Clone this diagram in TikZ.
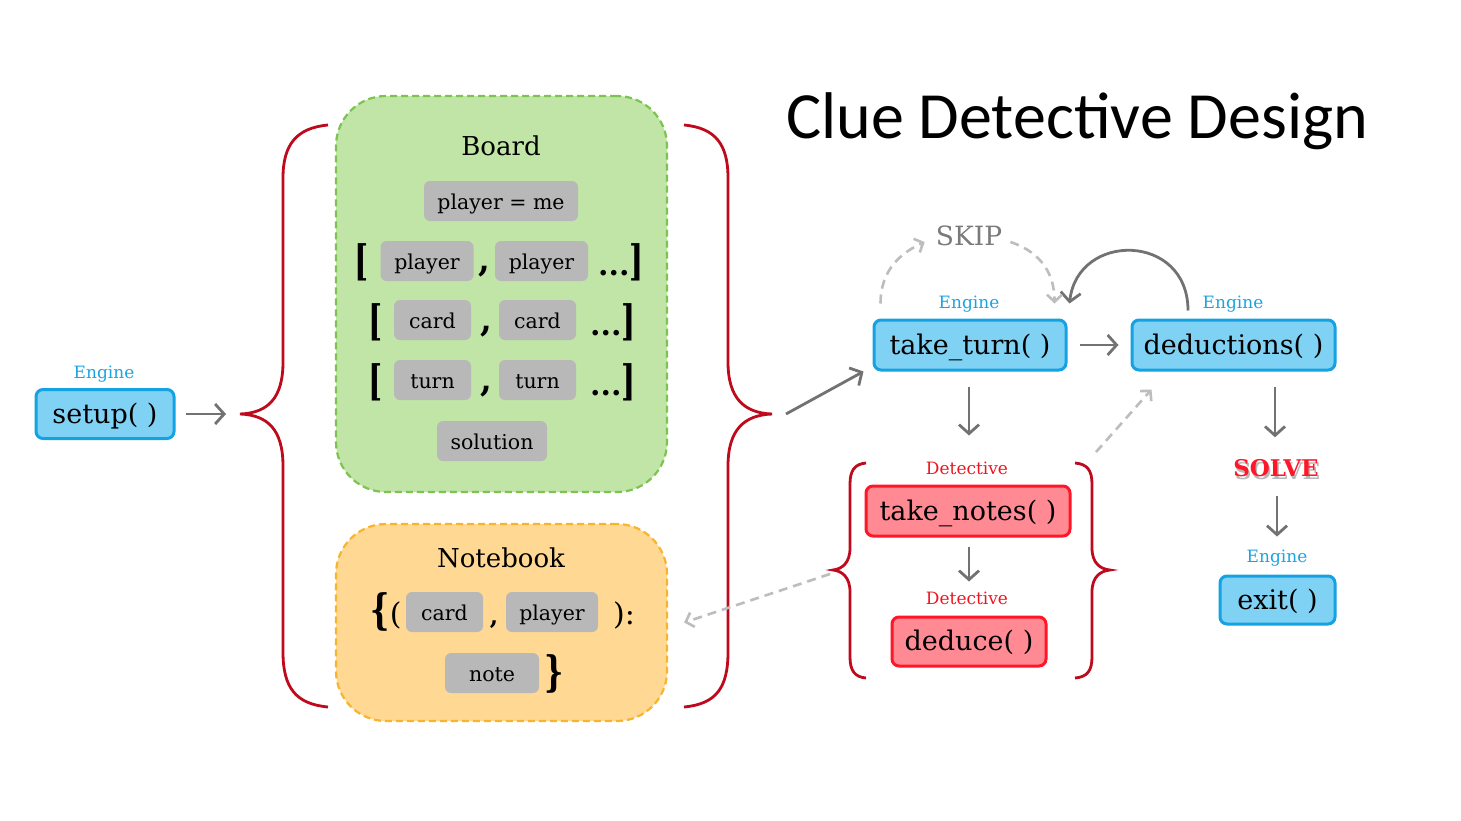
\documentclass[tikz,border=0pt]{standalone}
\usepackage{fontspec}
\usepackage{graphicx}
\setmainfont{DejaVu Serif}
\newfontfamily\titlefont{Carlito}
\usetikzlibrary{arrows.meta,calc}
\definecolor{engfill}{HTML}{80D2F4}
\definecolor{engline}{HTML}{14A2E2}
\definecolor{detfill}{HTML}{FF8A93}
\definecolor{detline}{HTML}{FF1628}
\definecolor{chipfill}{HTML}{B8B8B8}
\definecolor{bracered}{HTML}{BE0A1C}
\definecolor{boardfill}{HTML}{C1E5A7}
\definecolor{boardline}{HTML}{7CC350}
\definecolor{nbfill}{HTML}{FFD993}
\definecolor{nbline}{HTML}{F9B42D}
\definecolor{arrowgray}{HTML}{727272}
\definecolor{lightgraytwo}{HTML}{BDBDBD}
\definecolor{englabel}{HTML}{1BA4E2}
\definecolor{detlabel}{HTML}{EE1520}
\definecolor{skipgray}{HTML}{7A7A7A}
\newcommand{\tallb}[1]{\scalebox{1}[1.4]{#1}}
\tikzset{
  fs/.style={font=\fontsize{#1}{#1}\selectfont},
  fsb/.style={font=\fontsize{#1}{#1}\selectfont\bfseries},
  engbox/.style={inner sep=0pt, text height=20pt, text depth=2pt, draw=engline, fill=engfill, line width=3pt, rounded corners=7pt, fs=27},
  detbox/.style={inner sep=0pt, text height=20pt, text depth=2pt, draw=detline, fill=detfill, line width=3pt, rounded corners=7pt, fs=27},
  chip/.style={inner sep=0pt, text height=17pt, text depth=0pt, fill=chipfill, rounded corners=6pt, fs=20.5, minimum height=40},
  englab/.style={inner sep=0pt, text height=12.5pt, text depth=0pt, text=englabel, fs=17},
  detlab/.style={inner sep=0pt, text height=12.5pt, text depth=0pt, text=detlabel, fs=17},
  heading/.style={inner sep=0pt, text height=19pt, text depth=0pt, fs=26},
  sym/.style={inner sep=0pt, anchor=base, fsb=30},
  cont/.style={line width=2.2pt, dash pattern=on 7pt off 4pt, rounded corners=50pt},
  bracepath/.style={draw=bracered, line width=2.8pt},
  arr/.style={draw=arrowgray, line width=2.8pt, -{Straight Barb[length=9pt,width=20pt,line width=2.8pt]}},
  dasharr/.style={draw=lightgraytwo, line width=2.6pt, dash pattern=on 9pt off 6pt, -{Straight Barb[length=7pt,width=15pt,line width=2.6pt]}},
}
\begin{document}
\begin{tikzpicture}[x=1pt,y=-1pt]
\useasboundingbox[fill=white] (0,0) rectangle (1461,820);

% title
\node (title) [inner sep=0pt, anchor=base] at (1077,138) {\titlefont\fontsize{66}{66}\selectfont Clue Detective Design};

% containers
\node (board) [cont, draw=boardline, fill=boardfill, minimum width=331, minimum height=396] at (501.5,294) {};
\node (nb) [cont, draw=nbline, fill=nbfill, minimum width=331, minimum height=197] at (501.5,622.5) {};

% Board content
\node (boardt) [heading] at (501,146) {Board};
\node (pme) [chip, minimum width=154] at (501,201) {player = me};
\node (r2a) [sym] at (362,275) {\tallb{[}};
\node (p1) [chip, minimum width=93] at (427,261) {player};
\node (c2) [sym, fsb=34] at (484,271) {,};
\node (p2) [chip, minimum width=93] at (541.5,261) {player};
\node (r2b) [sym] at (621,275) {...\tallb{]}};
\node (r3a) [sym] at (376,335) {\tallb{[}};
\node (cd1) [chip, minimum width=77] at (432.5,320) {card};
\node (c3) [sym, fsb=34] at (486,331) {,};
\node (cd2) [chip, minimum width=77] at (537.5,320) {card};
\node (r3b) [sym] at (613,335) {...\tallb{]}};
\node (r4a) [sym] at (376,395) {\tallb{[}};
\node (t1) [chip, minimum width=77] at (432.5,380) {turn};
\node (c4) [sym, fsb=34] at (486,391) {,};
\node (t2) [chip, minimum width=77] at (537.5,380) {turn};
\node (r4b) [sym] at (613,395) {...\tallb{]}};
\node (sol) [chip, minimum width=110] at (492,441) {solution};

% Notebook content
\node (nbo) [sym] at (386,624) {\tallb{\{}\mdseries(};
\node (nbt) [heading] at (501,558) {Notebook};
\node (nbc) [chip, minimum width=77] at (444.5,612) {card};
\node (nbcm) [sym, fsb=24] at (494,624) {,};
\node (nbp) [chip, minimum width=92] at (552,612) {player};
\node (nbcl) [sym, fs=30] at (624,624) {):};
\node (nbn) [chip, minimum width=94] at (492,673) {note};
\node (nbe) [sym] at (554,686) {\tallb{\}}};

% big braces
\coordinate (lbtip) at (240,414);
\coordinate (rbtip) at (772,414);
\draw[bracepath] (328,125) .. controls (296,128) and (283,145) .. (283,178) -- (283,362)
  .. controls (283,398) and (268,413) .. (lbtip)
  .. controls (268,415) and (283,430) .. (283,466) -- (283,652)
  .. controls (283,688) and (296,704) .. (328,707);
\draw[bracepath] (684,125) .. controls (716,128) and (728,145) .. (728,178) -- (728,362)
  .. controls (728,398) and (744,413) .. (rbtip)
  .. controls (744,415) and (728,430) .. (728,466) -- (728,652)
  .. controls (728,688) and (716,704) .. (684,707);

% Engine setup
\node (setup) [engbox, minimum width=138, minimum height=49] at (105,414) {setup( )};
\node (setupl) [englab] at (104,372) {Engine};
\draw[arr] ([shift={(10,0)}]setup.east) -- ([shift={(-14,0)}]lbtip);

% take_turn & deductions
\node (tt) [engbox, minimum width=192, minimum height=50] at (970,345) {take\_turn( )};
\node (ttl) [englab] at (969,302) {Engine};
\node (ded) [engbox, minimum width=203, minimum height=50] at (1233.5,345) {deductions( )};
\node (dedl) [englab] at (1233,302) {Engine};
\draw[arr] ([shift={(14,0)}]rbtip) -- ([shift={(-9,0)}]tt.south west);
\draw[arr] ([shift={(12,0)}]tt.east) -- ([shift={(-12,0)}]ded.west);
\draw[arr] ([shift={(-45.5,-8)}]ded.north) .. controls +(0,-78) and +(8,-72) .. ([shift={(2,-15)}]tt.north east);

% SKIP
\node (skip) [heading, fs=26.5, text=skipgray] at (969,236) {SKIP};
\draw[dasharr] ([shift={(8,-15)}]tt.north west) .. controls +(0,-35) and +(-22,10) .. ([shift={(-11,6)}]skip.west);
\draw[dasharr] ([shift={(8,6)}]skip.east) .. controls +(25,8) and +(0,-35) .. ([shift={(-13,-15)}]tt.north east);

% Detective group
\coordinate (dltip) at (833,570);
\coordinate (drtip) at (1110,570);
\draw[bracepath] (866,463) .. controls (855,464) and (850,470) .. (850,484) -- (850,548)
  .. controls (850,563) and (842,569) .. (dltip)
  .. controls (842,571) and (850,577) .. (850,592) -- (850,657)
  .. controls (850,671) and (855,677) .. (866,678);
\draw[bracepath] (1075,463) .. controls (1087,464) and (1092,470) .. (1092,484) -- (1092,548)
  .. controls (1092,563) and (1100,569) .. (drtip)
  .. controls (1100,571) and (1092,577) .. (1092,592) -- (1092,657)
  .. controls (1092,671) and (1087,677) .. (1075,678);
\node (tnl) [detlab] at (967,468) {Detective};
\node (tn) [detbox, minimum width=204, minimum height=50] at (968,511) {take\_notes( )};
\node (ddl) [detlab] at (967,598) {Detective};
\node (dd) [detbox, minimum width=154, minimum height=49] at (969,641.5) {deduce( )};
\draw[arr] ([shift={(-1,15)}]tt.south) -- ($(tt.south |- tn.north)+(-1,-49)$);
\draw[arr] ([shift={(1,9)}]tn.south) -- ($(tn.south |- dd.north)+(1,-34)$);

\coordinate (dgtop) at (1096,452);
\draw[dasharr] (dgtop) -- ([shift={(21,18)}]ded.south west);
\draw[dasharr] ([shift={(-3,4)}]dltip) -- ([shift={(16,0)}]nb.east);

% SOLVE & exit
\node (solveshadow) [inner sep=0pt, text height=17pt, text depth=0pt, fsb=23, text=black!28] at (1277.5,470.5) {SOLVE};
\node (solve) [inner sep=0pt, text height=17pt, text depth=0pt, fsb=23, text=detline] at (1276,468) {SOLVE};
\node (exitl) [englab] at (1277,556) {Engine};
\node (exit) [engbox, minimum width=115, minimum height=48] at (1277.5,600) {exit( )};
\draw[arr] ($(ded.south -| solve)+(-1,15)$) -- ($(solve.north)+(-1,-22)$);
\draw[arr] ($(solve.south)+(1,19)$) -- ($(exitl.north)+(0,-13)$);
\end{tikzpicture}
\end{document}
